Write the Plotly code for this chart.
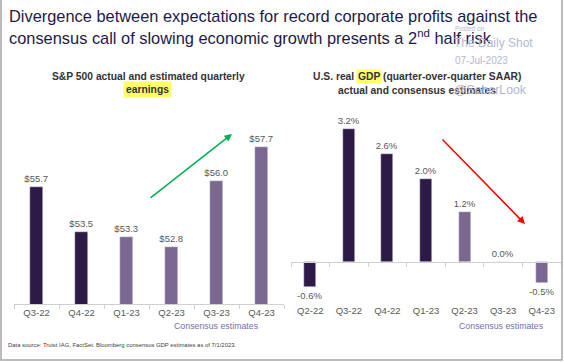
import plotly.graph_objects as go

W, H = 564, 362

eps_quarters = ["Q3-22", "Q4-22", "Q1-23", "Q2-23", "Q3-23", "Q4-23"]
eps_values = [55.7, 53.5, 53.3, 52.8, 56.0, 57.7]
eps_actual = [True, True, False, False, False, False]

gdp_quarters = ["Q2-22", "Q3-22", "Q4-22", "Q1-23", "Q2-23", "Q3-23", "Q4-23"]
gdp_values = [-0.6, 3.2, 2.6, 2.0, 1.2, 0.0, -0.5]
gdp_actual = [True, True, True, True, False, False, False]

DARK = "#2e1a47"
LIGHT = "#7b6890"
LABEL = "#595959"
FONT = "Liberation Sans, Arial, sans-serif"


def px(x):
    return x / W


def py(y):
    return (H - y) / H


fig = go.Figure()

fig.add_trace(go.Bar(
    x=eps_quarters, y=eps_values,
    marker_color=[DARK if a else LIGHT for a in eps_actual],
    width=0.31,
    text=[f"${v:.1f}" for v in eps_values],
    textposition="outside", cliponaxis=False, constraintext="none",
    textfont=dict(size=9.5, color=LABEL, family=FONT),
    xaxis="x", yaxis="y", showlegend=False, hoverinfo="skip",
))

fig.add_trace(go.Bar(
    x=gdp_quarters, y=gdp_values,
    marker_color=[DARK if a else LIGHT for a in gdp_actual],
    width=0.31,
    text=[f"{v:.1f}%" for v in gdp_values],
    textposition="outside", cliponaxis=False, constraintext="none",
    textfont=dict(size=9.5, color=LABEL, family=FONT),
    xaxis="x2", yaxis="y2", showlegend=False, hoverinfo="skip",
))

gdp_zero_y = 262
gdp_bottom = 303
gdp_top = 110
gdp_scale = 41.5

eps_bottom_px = 304
eps_top_px = 110
eps_scale = 20.45
eps_min = 50

fig.update_layout(
    width=W, height=H,
    margin=dict(l=0, r=0, t=0, b=0),
    paper_bgcolor="white", plot_bgcolor="white",
    font=dict(family=FONT, color=LABEL),
    bargap=0.0,
    xaxis=dict(
        domain=[px(14), px(284)], anchor="y",
        type="category", range=[-0.5, len(eps_quarters) - 0.5],
        showline=True, linecolor="#d0d0d0", linewidth=1,
        ticks="outside", tickson="boundaries", ticklen=4, tickcolor="#d0d0d0",
        tickfont=dict(size=9.5, color=LABEL), showgrid=False,
    ),
    yaxis=dict(
        domain=[py(eps_bottom_px), py(eps_top_px)], anchor="x",
        range=[eps_min, eps_min + (eps_bottom_px - eps_top_px) / eps_scale],
        visible=False,
    ),
    xaxis2=dict(
        domain=[px(291), px(561)], anchor="y2",
        type="category", range=[-0.5, len(gdp_quarters) - 0.5],
        showline=False, ticks="", showgrid=False,
        tickfont=dict(size=9.5, color=LABEL),
    ),
    yaxis2=dict(
        domain=[py(gdp_bottom), py(gdp_top)], anchor="x2",
        range=[-(gdp_bottom - gdp_zero_y) / gdp_scale, (gdp_zero_y - gdp_top) / gdp_scale],
        visible=False,
    ),
    xaxis3=dict(
        domain=[px(291), px(561)], anchor="free", position=py(gdp_zero_y),
        overlaying="x2", range=[-0.5, len(gdp_quarters) - 0.5],
        tickmode="array", tickvals=[i - 0.5 for i in range(len(gdp_quarters) + 1)],
        showticklabels=False,
        showline=True, linecolor="#d0d0d0", linewidth=1,
        ticks="outside", ticklen=4, tickcolor="#d0d0d0", showgrid=False, zeroline=False,
    ),
)

# invisible trace so that the zero-line axis renders
fig.add_trace(go.Scatter(x=[0], y=[0], xaxis="x3", yaxis="y2", mode="markers",
                         marker=dict(opacity=0), showlegend=False, hoverinfo="skip"))

TITLE = "#1e1a4a"
ann = []
ann.append(dict(x=px(7), y=py(16), xref="paper", yref="paper", xanchor="left", yanchor="middle",
                text="Divergence between expectations for record corporate profits against the",
                showarrow=False, font=dict(size=16.4, color=TITLE)))
ann.append(dict(x=px(7), y=py(37), xref="paper", yref="paper", xanchor="left", yanchor="middle",
                text="consensus call of slowing economic growth presents a 2<sup>nd</sup> half risk",
                showarrow=False, font=dict(size=16.4, color=TITLE)))

# watermark
WM = "#b4b8d4"
ann.append(dict(x=px(453), y=py(29), xref="paper", yref="paper", xanchor="left", yanchor="middle",
                text="Posted on", showarrow=False, font=dict(size=6.5, color=WM)))
ann.append(dict(x=px(452), y=py(43), xref="paper", yref="paper", xanchor="left", yanchor="middle",
                text="The Daily Shot", showarrow=False, font=dict(size=12, color=WM)))
ann.append(dict(x=px(453), y=py(61), xref="paper", yref="paper", xanchor="left", yanchor="middle",
                text="07-Jul-2023", showarrow=False, font=dict(size=10, color=WM)))

# subplot titles
ST = "#333333"
STS = 10.3
ann.append(dict(x=px(148), y=py(76), xref="paper", yref="paper", xanchor="center", yanchor="middle",
                text="<b>S&P 500 actual and estimated quarterly</b>", showarrow=False,
                font=dict(size=STS, color=ST)))
ann.append(dict(x=px(147), y=py(89), xref="paper", yref="paper", xanchor="center", yanchor="middle",
                text="<b>earnings</b>", showarrow=False, bgcolor="#ffff66", borderpad=2,
                font=dict(size=STS, color=ST)))
ann.append(dict(x=px(356), y=py(77), xref="paper", yref="paper", xanchor="right", yanchor="middle",
                text="<b>U.S. real</b>", showarrow=False, font=dict(size=STS, color=ST)))
ann.append(dict(x=px(369), y=py(77), xref="paper", yref="paper", xanchor="center", yanchor="middle",
                text="<b>GDP</b>", showarrow=False, bgcolor="#ffff66", borderpad=1,
                font=dict(size=STS, color=ST)))
ann.append(dict(x=px(381), y=py(77), xref="paper", yref="paper", xanchor="left", yanchor="middle",
                text="<b>(quarter-over-quarter SAAR)</b>", showarrow=False, font=dict(size=STS, color=ST)))
ann.append(dict(x=px(417), y=py(90), xref="paper", yref="paper", xanchor="center", yanchor="middle",
                text="<b>actual and consensus estimates</b>", showarrow=False, font=dict(size=STS, color=ST)))
ann.append(dict(x=px(452), y=py(90), xref="paper", yref="paper", xanchor="left", yanchor="middle",
                text="@SoberLook", showarrow=False, font=dict(size=12.3, color=WM)))

# consensus estimates labels
CE = "#7b6e9e"
ann.append(dict(x=px(216), y=py(326), xref="paper", yref="paper", xanchor="center", yanchor="middle",
                text="Consensus estimates", showarrow=False, font=dict(size=8.8, color=CE)))
ann.append(dict(x=px(501), y=py(326), xref="paper", yref="paper", xanchor="center", yanchor="middle",
                text="Consensus estimates", showarrow=False, font=dict(size=8.8, color=CE)))

# source
ann.append(dict(x=px(6), y=py(345), xref="paper", yref="paper", xanchor="left", yanchor="middle",
                text="Data source: Truist IAG, FactSet. Bloomberg consensus GDP estimates as of 7/1/2023.",
                showarrow=False, font=dict(size=5.9, color="#404040")))

# arrows
ann.append(dict(x=px(232), y=py(134), xref="paper", yref="paper", text="", showarrow=True,
                ax=149 - 232, ay=199 - 134, axref="pixel", ayref="pixel",
                arrowhead=2, arrowsize=1, arrowwidth=1.5, arrowcolor="#00b050", standoff=0))
ann.append(dict(x=px(525), y=py(224), xref="paper", yref="paper", text="", showarrow=True,
                ax=441 - 525, ay=138 - 224, axref="pixel", ayref="pixel",
                arrowhead=2, arrowsize=1, arrowwidth=1.5, arrowcolor="#ff0000", standoff=0))

fig.update_layout(annotations=ann)

fig.add_shape(type="rect", xref="paper", yref="paper",
              x0=px(1), x1=px(562), y0=py(360), y1=1.05,
              line=dict(color="#a6a6a6", width=1.5), fillcolor="rgba(0,0,0,0)")

fig.write_html("out.html", config={"displayModeBar": False},
               post_script="document.body.style.margin='0';document.body.style.overflow='hidden';")
